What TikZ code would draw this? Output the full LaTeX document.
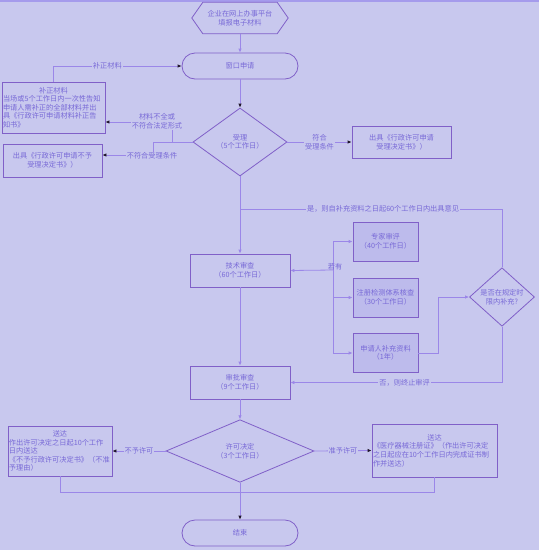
\documentclass[tikz,border=0pt]{standalone}
\usepackage{fontspec}
\setmainfont{Noto Sans CJK SC}
\usetikzlibrary{shapes.geometric,arrows.meta}
\definecolor{bgcol}{RGB}{200,200,238}
\definecolor{topcol}{RGB}{165,155,236}
\definecolor{linecol}{RGB}{155,135,232}
\definecolor{boxcol}{RGB}{128,96,200}
\definecolor{txtcol}{RGB}{120,105,215}
\definecolor{tipdark}{RGB}{30,20,40}
\definecolor{fillcol}{RGB}{189,187,236}
\tikzset{
  box/.style={draw=boxcol,line width=0.8pt,text=txtcol,align=center,inner sep=1pt},
  term/.style={box,rounded corners=13pt,minimum width=116pt,minimum height=26pt},
  decide/.style={box,diamond,inner sep=0pt},
  sub/.style={box,fill=fillcol,minimum width=65pt,minimum height=39pt},
  flow/.style={draw=linecol,line width=0.8pt,-{Latex[length=4pt,width=3.5pt,color=linecol]}},
  flowdark/.style={draw=linecol,line width=0.8pt,-{Latex[length=4pt,width=3.5pt,color=tipdark]}},
  plain/.style={draw=linecol,line width=0.8pt},
  tag/.style={fill=bgcol,text=txtcol,inner sep=1pt,align=center},
}
\begin{document}
\begin{tikzpicture}[x=1pt,y=-1pt,font=\fontsize{7.2pt}{8.6pt}\selectfont]
\useasboundingbox (0,0) rectangle (539,550);
\fill[bgcol] (0,0) rectangle (539,550);
\draw[topcol,line width=1.5pt] (0,0.75) -- (539,0.75);
% nodes
\node[text=txtcol,align=center,inner sep=0pt,minimum width=96pt,minimum height=31pt] (hex) at (240,18) {企业在网上办事平台\\填报电子材料};
\draw[draw=boxcol,line width=0.8pt] (hex.west) -- ([xshift=11pt]hex.north west) -- ([xshift=-11pt]hex.north east) -- (hex.east) -- ([xshift=-11pt]hex.south east) -- ([xshift=11pt]hex.south west) -- cycle;
\node[term] (win) at (240,66) {窗口申请};
\node[box,text width=101pt,align=left,minimum height=51pt] (fix) at (53.5,107.5) {\makebox[\linewidth]{补正材料}\\当场或5个工作日内一次性告知\\申请人需补正的全部材料并出\\具《行政许可申请材料补正告\\知书》};
\node[decide,minimum width=94pt,minimum height=68pt] (acc) at (240,142) {受理\\（5个工作日）};
\node[box,minimum width=99pt,minimum height=33pt] (refuse) at (52.5,160.5) {出具《行政许可申请不予\\受理决定书》）};
\node[box,minimum width=99pt,minimum height=32pt] (admit) at (401.5,142) {出具《行政许可申请\\受理决定书》）};
\node[box,minimum width=100pt,minimum height=33pt] (tech) at (240,270.5) {技术审查\\（60个工作日）};
\node[sub] (expert) at (385.5,241.5) {专家审评\\（40个工作日）};
\node[sub] (check) at (385.5,297.5) {注册检测体系核查\\（30个工作日）};
\node[sub] (supply) at (385.5,353) {申请人补充资料\\（1年）};
\node[decide,minimum width=65pt,minimum height=38pt] (intime) at (502,297) {是否在规定时\\限内补充?};
\node[box,minimum width=100pt,minimum height=33pt] (appr) at (240,382.5) {审批审查\\（9个工作日）};
\node[decide,minimum width=148pt,minimum height=52pt] (dec) at (240,451) {许可决定\\（3个工作日）};
\node[box,text width=102pt,align=left,minimum height=50pt] (deny) at (60,451) {\makebox[\linewidth]{送达}\\作出许可决定之日起10个工作\\日内送达\\《不予行政许可决定书》（不准\\予理由）};
\node[box,text width=123pt,align=left,minimum height=53pt] (grant) at (434.5,450.5) {\makebox[\linewidth]{送达}\\《医疗器械注册证》（作出许可决定\\之日起应在10个工作日内完成证书制\\作并送达）};
\node[term] (end) at (240,533) {结束};
% connectors
\draw[flow] (hex.south) -- (win.north);
\draw[flowdark] (win.south) -- (acc.north);
\draw[flowdark] (fix.north) |- node[tag,pos=0.71] (lbfix) {补正材料} (win.west);
\coordinate (split) at (172,142);
\coordinate (lackin) at (172,122);
\coordinate (split2) at (153,142);
\coordinate (nocond) at (153,155);
\draw[plain] (acc.west) -- (split);
\draw[flowdark] (split) -- (lackin) -- (lackin -| fix.east);
\node[tag] (lblack) at (157,121) {材料不全或\\不符合法定形式};
\draw[flowdark] (split) -- (split2) -- (nocond) -- (nocond -| refuse.east);
\node[tag] (lbnocond) at (152,156) {不符合受理条件};
\draw[flowdark] (acc.east) -- node[tag] (lbok) {符合\\受理条件} (admit.west);
\draw[flow] (acc.south) -- (tech.north);
\coordinate (join) at (240,209);
\draw[plain] (intime.north) |- node[tag,pos=0.727] (lbyes) {是，则自补充资料之日起60个工作日内出具意见} (join);
\coordinate (fork) at (333,270);
\draw[flow] (fork) -- (tech.east);
\draw[plain] (fork |- expert) -- (fork |- supply);
\draw[flow] (fork |- expert) -- (expert.west);
\draw[flow] (fork |- check) -- (check.west);
\draw[flow] (fork |- supply) -- (supply.west);
\node[text=txtcol,inner sep=0pt] (lbany) at (335,267) {若有};
\draw[flow] (supply.east) -- ++(20,0) |- (intime.west);
\draw[flow] (intime.south) |- node[tag,pos=0.73] (lbno) {否，则终止审评} (appr.east);
\draw[flow] (tech.south) -- (appr.north);
\draw[flow] (appr.south) -- (dec.north);
\draw[flowdark] (dec.west) -- node[tag] (lbdeny) {不予许可} (deny.east);
\draw[flowdark] (dec.east) -- node[tag] (lbgrant) {准予许可} (grant.west);
\draw[plain] (deny.south) -- ++(0,16) -| (grant.south);
\draw[flowdark] (dec.south) -- (end.north);
\end{tikzpicture}
\end{document}
